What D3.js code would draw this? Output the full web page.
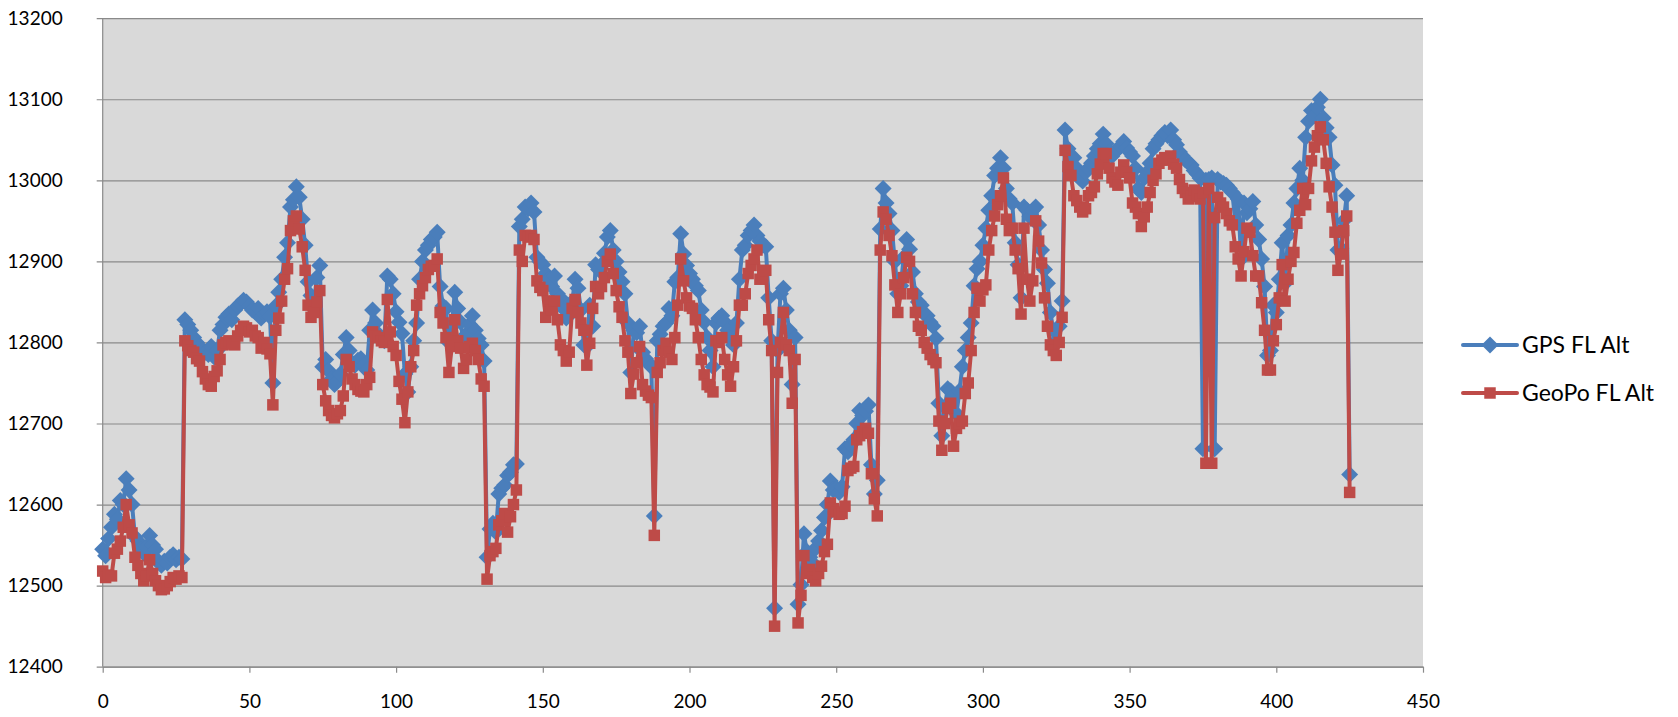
<!DOCTYPE html>
<html>
<head>
<meta charset="utf-8">
<script src="https://cdn.jsdelivr.net/npm/d3@7"></script>
<style>
  html, body { margin: 0; padding: 0; background: #ffffff; }
  svg { display: block; font-family: Lato, "Open Sans", sans-serif; }
</style>
</head>
<body>
<svg id="chart" width="1678" height="717"></svg>
<script>
// Flight-level altitude per sample, GPS vs GeoPo
const gpsFlAlt = [
  12545,12537,12558,12572,12588,12582,12605,12600,12632,12618,
  12600,12560,12555,12545,12540,12548,12562,12550,12545,12530,
  12525,12530,12528,12535,12538,12532,12535,12533,12828,12822,
  12815,12806,12800,12795,12790,12788,12785,12795,12782,12790,
  12815,12822,12831,12835,12828,12840,12845,12848,12852,12850,
  12845,12840,12838,12842,12830,12835,12838,12832,12750,12845,
  12862,12878,12905,12923,12967,12976,12992,12979,12952,12920,
  12875,12858,12850,12880,12895,12770,12779,12765,12755,12748,
  12752,12761,12785,12806,12790,12775,12772,12778,12780,12772,
  12766,12815,12840,12824,12810,12805,12802,12882,12878,12860,
  12838,12825,12811,12761,12739,12770,12802,12824,12878,12900,
  12914,12920,12927,12930,12936,12869,12845,12842,12800,12820,
  12862,12842,12825,12800,12810,12822,12833,12815,12805,12797,
  12777,12535,12570,12577,12566,12613,12620,12624,12636,12640,
  12649,12650,12943,12952,12967,12965,12972,12961,12905,12900,
  12896,12885,12878,12869,12882,12860,12855,12842,12830,12845,
  12850,12878,12867,12840,12797,12795,12846,12820,12896,12890,
  12896,12910,12930,12938,12914,12900,12887,12875,12860,12824,
  12763,12815,12812,12820,12788,12780,12775,12770,12586,12802,
  12810,12820,12824,12842,12833,12875,12880,12934,12909,12895,
  12885,12878,12870,12864,12840,12825,12806,12790,12770,12824,
  12830,12833,12825,12815,12805,12797,12824,12878,12914,12920,
  12932,12938,12945,12932,12925,12920,12918,12855,12802,12472,
  12790,12860,12867,12840,12815,12748,12806,12477,12501,12564,
  12542,12535,12528,12546,12555,12568,12584,12600,12629,12618,
  12620,12615,12622,12669,12665,12674,12680,12700,12716,12710,
  12715,12723,12649,12613,12630,12940,12990,12972,12959,12938,
  12900,12860,12870,12905,12927,12915,12887,12860,12850,12846,
  12835,12833,12825,12820,12805,12725,12685,12720,12743,12740,
  12734,12712,12740,12770,12790,12806,12824,12870,12891,12900,
  12920,12941,12963,12981,13006,13015,13028,13015,12990,12977,
  12972,12923,12896,12855,12967,12963,12955,12963,12967,12945,
  12914,12890,12873,12837,12815,12802,12820,12851,13062,13039,
  13030,13028,13015,13003,12999,13010,13015,13021,13030,13039,
  13045,13057,13045,13035,13030,13035,13039,13042,13048,13040,
  13035,13030,13015,12990,12985,13003,13010,13021,13039,13045,
  13050,13055,13059,13055,13062,13050,13044,13035,13030,13025,
  13022,13019,13012,13008,13003,12669,13000,13001,13003,12669,
  13001,12998,12996,12994,12990,12985,12950,12977,12903,12972,
  12960,12965,12974,12945,12927,12903,12869,12784,12790,12846,
  12837,12878,12923,12873,12932,12945,12972,12990,13015,13000,
  13053,13073,13086,13080,13090,13100,13077,13065,13053,13019,
  12994,12914,12916,12950,12981,12637
];

const geoPoFlAlt = [
  12518,12510,12513,12512,12540,12545,12555,12572,12600,12575,
  12565,12535,12525,12515,12506,12512,12532,12515,12506,12500,
  12495,12496,12500,12505,12510,12508,12512,12510,12802,12796,
  12790,12788,12780,12777,12764,12755,12748,12746,12758,12765,
  12779,12797,12800,12802,12798,12797,12808,12815,12820,12818,
  12813,12815,12808,12806,12793,12800,12792,12786,12723,12815,
  12830,12851,12878,12891,12938,12950,12956,12940,12918,12889,
  12846,12831,12837,12850,12864,12748,12728,12716,12710,12707,
  12712,12716,12734,12779,12770,12755,12748,12742,12740,12739,
  12748,12757,12813,12808,12806,12802,12800,12853,12813,12795,
  12784,12752,12730,12701,12739,12770,12790,12846,12860,12870,
  12880,12890,12894,12895,12903,12837,12824,12806,12763,12795,
  12828,12802,12793,12768,12779,12795,12799,12790,12779,12755,
  12746,12508,12537,12542,12546,12575,12580,12589,12566,12585,
  12600,12618,12914,12900,12932,12930,12932,12927,12876,12868,
  12864,12831,12851,12840,12851,12828,12797,12790,12777,12788,
  12842,12853,12837,12824,12815,12772,12799,12842,12869,12860,
  12869,12880,12900,12909,12885,12864,12844,12831,12802,12788,
  12737,12761,12775,12795,12748,12740,12735,12732,12562,12763,
  12775,12790,12799,12788,12779,12806,12846,12903,12876,12855,
  12845,12842,12828,12806,12779,12760,12748,12745,12739,12802,
  12800,12806,12779,12760,12746,12770,12802,12846,12846,12860,
  12885,12895,12903,12914,12878,12882,12889,12828,12790,12450,
  12763,12800,12837,12797,12790,12725,12779,12454,12488,12537,
  12515,12520,12510,12506,12515,12524,12542,12551,12602,12595,
  12591,12588,12589,12598,12642,12645,12647,12680,12685,12690,
  12694,12688,12638,12607,12586,12914,12961,12952,12932,12907,
  12871,12837,12860,12880,12905,12900,12860,12837,12820,12815,
  12800,12793,12785,12779,12775,12703,12667,12700,12719,12725,
  12672,12694,12700,12703,12737,12750,12790,12837,12867,12851,
  12865,12871,12914,12938,12956,12970,12981,13003,12952,12938,
  12941,12914,12891,12835,12941,12878,12851,12876,12950,12925,
  12898,12855,12820,12797,12790,12784,12800,12831,13037,13017,
  13006,12981,12975,12967,12961,12965,12981,12985,12992,13008,
  13020,13033,13033,13015,13003,12998,12994,13010,13019,13010,
  13003,12972,12967,12959,12943,12955,12967,12985,13000,13008,
  13021,13025,13028,13025,13030,13020,13015,13001,12990,12985,
  12977,12980,12988,12982,12977,12985,12651,12990,12651,12954,
  12979,12972,12967,12959,12950,12945,12918,12903,12882,12912,
  12941,12936,12907,12882,12882,12849,12815,12766,12766,12802,
  12822,12855,12896,12851,12878,12900,12911,12947,12963,12990,
  12970,12990,13024,13041,13055,13066,13050,13021,12992,12967,
  12936,12889,12909,12938,12956,12615
];

const seriesNames = ["GPS FL Alt", "GeoPo FL Alt"];
const xTickValues = [0, 50, 100, 150, 200, 250, 300, 350, 400, 450];
const yTickValues = [12400, 12500, 12600, 12700, 12800, 12900, 13000, 13100, 13200];

// Layout
const plot = { left: 102.7, right: 1423, top: 18.2, bottom: 666.7 };
const gridColor = "#8a8a8a";
const colors = { gps: "#4a7ebb", geo: "#be4b48" };

const svg = d3.select("#chart");

const x = d3.scaleLinear().domain([0, 450]).range([plot.left, plot.right]);
const y = d3.scaleLinear().domain([12400, 13200]).range([plot.bottom, plot.top]);

// Plot background
svg.append("rect")
  .attr("x", plot.left).attr("y", plot.top)
  .attr("width", plot.right - plot.left)
  .attr("height", plot.bottom - plot.top)
  .attr("fill", "#d9d9d9");

// Horizontal gridlines with outward ticks and value labels
const tickOut = 6;
const yAxis = d3.axisLeft(y)
  .tickValues(yTickValues)
  .tickFormat(d3.format("d"))
  .tickSizeInner(-(plot.right - plot.left + tickOut))
  .tickSizeOuter(0)
  .tickPadding(34);

const gy = svg.append("g")
  .attr("transform", `translate(${plot.left - tickOut},0)`)
  .call(yAxis);
gy.select(".domain").remove();
gy.selectAll(".tick line").attr("stroke", gridColor).attr("stroke-width", 1.2);
gy.selectAll(".tick text")
  .attr("fill", "#000")
  .attr("font-size", 19)
  .attr("font-family", "Lato, 'Open Sans', sans-serif");

// Vertical axis line
svg.append("line")
  .attr("x1", plot.left).attr("x2", plot.left)
  .attr("y1", plot.top).attr("y2", plot.bottom)
  .attr("stroke", gridColor).attr("stroke-width", 1.2);

// Horizontal axis
const xAxis = d3.axisBottom(x)
  .tickValues(xTickValues)
  .tickFormat(d3.format("d"))
  .tickSizeInner(tickOut)
  .tickSizeOuter(0)
  .tickPadding(22);

const gx = svg.append("g")
  .attr("transform", `translate(0,${plot.bottom})`)
  .call(xAxis);
gx.select(".domain").attr("stroke", gridColor).attr("stroke-width", 1.2);
gx.selectAll(".tick line").attr("stroke", gridColor).attr("stroke-width", 1.2);
gx.selectAll(".tick text")
  .attr("fill", "#000")
  .attr("font-size", 19)
  .attr("font-family", "Lato, 'Open Sans', sans-serif");

// Series
const diamond = d3.symbol().type(d3.symbolSquare).size(144)();
const square = d3.symbol().type(d3.symbolSquare).size(132)();

const series = [
  { name: seriesNames[0], values: gpsFlAlt, color: colors.gps, marker: "diamond" },
  { name: seriesNames[1], values: geoPoFlAlt, color: colors.geo, marker: "square" }
];

const line = d3.line()
  .x((d, i) => x(i))
  .y(d => y(d));

function markerTransform(px, py, kind) {
  return kind === "diamond"
    ? `translate(${px},${py}) rotate(45)`
    : `translate(${px},${py})`;
}

series.forEach(s => {
  const g = svg.append("g").attr("class", "series");
  g.append("path")
    .datum(s.values)
    .attr("d", line)
    .attr("fill", "none")
    .attr("stroke", s.color)
    .attr("stroke-width", 4)
    .attr("stroke-linejoin", "round")
    .attr("stroke-linecap", "round");
  g.selectAll("path.marker")
    .data(s.values)
    .join("path")
    .attr("class", "marker")
    .attr("d", s.marker === "diamond" ? diamond : square)
    .attr("transform", (d, i) => markerTransform(x(i), y(d), s.marker))
    .attr("fill", s.color);
});

// Legend
const legend = svg.append("g").attr("class", "legend");
const legendRows = [345, 393];
series.forEach((s, k) => {
  const ly = legendRows[k];
  const row = legend.append("g");
  row.append("line")
    .attr("x1", 1463).attr("x2", 1517)
    .attr("y1", ly).attr("y2", ly)
    .attr("stroke", s.color).attr("stroke-width", 4)
    .attr("stroke-linecap", "round");
  row.append("path")
    .attr("d", s.marker === "diamond" ? diamond : square)
    .attr("transform", markerTransform(1490, ly, s.marker))
    .attr("fill", s.color);
  row.append("text")
    .attr("x", 1522).attr("y", ly)
    .attr("dy", "0.35em")
    .attr("font-size", 23)
    .attr("fill", "#000")
    .text(s.name);
});
</script>
</body>
</html>
